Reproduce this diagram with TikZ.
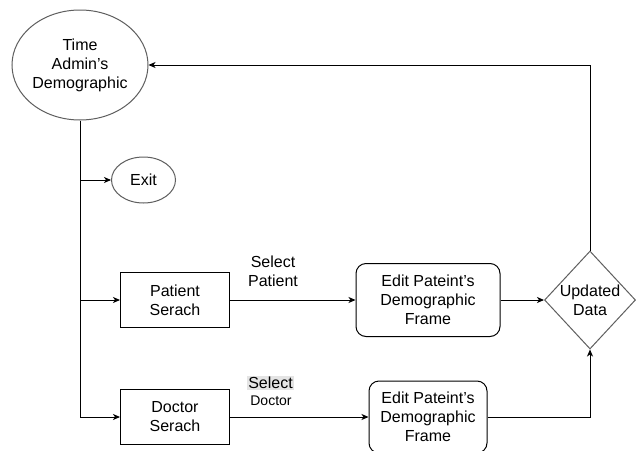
\documentclass[tikz,border=0pt]{standalone}
\usepackage{fontspec}
\setmainfont{Liberation Sans}
\definecolor{rim}{RGB}{95,95,95}
\definecolor{shade}{RGB}{228,228,228}
\usetikzlibrary{positioning,shapes,arrows.meta}

\begin{document}
\begin{tikzpicture}[x=1pt,y=-1pt,
    every node/.style={font=\fontsize{16}{19}\selectfont, align=center, inner sep=0pt},
    oval/.style={ellipse, draw=rim, line width=1pt},
    procbox/.style={rectangle, draw=black, line width=1pt, minimum width=109pt, minimum height=55pt},
    framebox/.style={rectangle, rounded corners=10pt, draw=black, line width=1pt, minimum width=144pt, minimum height=73pt},
    decide/.style={diamond, draw=rim, line width=1pt, minimum width=91pt, minimum height=98pt},
    link/.style={-{Stealth[length=7pt,width=6pt,inset=2pt]}, line width=0.9pt}
]
    \path[use as bounding box, fill=white] (0,0) rectangle (637,450);

    % screens
    \node[oval, minimum width=136pt, minimum height=110pt] (admin) at (80,65) {Time\\Admin's\\Demographic};
    \node[oval, minimum width=64pt, minimum height=46pt] (exit) at (143.5,180) {Exit};
    \node[procbox] (patsearch) at (175,300) {Patient\\Serach};
    \node[procbox] (docsearch) at (175,417) {Doctor\\Serach};
    \node[framebox] (patedit) at (428,300) {Edit Pateint's\\Demographic\\Frame};
    \node[framebox, minimum width=118pt, minimum height=72pt] (docedit) at (428,417) {Edit Pateint's\\Demographic\\Frame};
    \node[decide, label={[align=center]center:Updated\\Data}] (update) at (590,300) {};

    % edge labels
    \node (selpat) at (273,271) {Select\\Patient};
    \node[fill=shade, inner sep=1pt] (seldoc) at (270.5,383) {Select};
    \node[font=\fontsize{14}{16}\selectfont] (docword) at (271,401) {Doctor};

    % trunk out of the main screen
    \draw[link] (admin.south) |- (docsearch.west);
    \foreach \dst in {exit,patsearch}
        \draw[link] (admin.south |- \dst.west) -- (\dst.west);

    % search -> edit -> update
    \draw[link] (patsearch) -- (patedit);
    \draw[link] (docsearch) -- (docedit);
    \draw[link] (patedit) -- (update);
    \draw[link] (docedit.east) -| (update.south);

    % back to the main screen
    \draw[link] (update.north) |- (admin.east);
\end{tikzpicture}
\end{document}
